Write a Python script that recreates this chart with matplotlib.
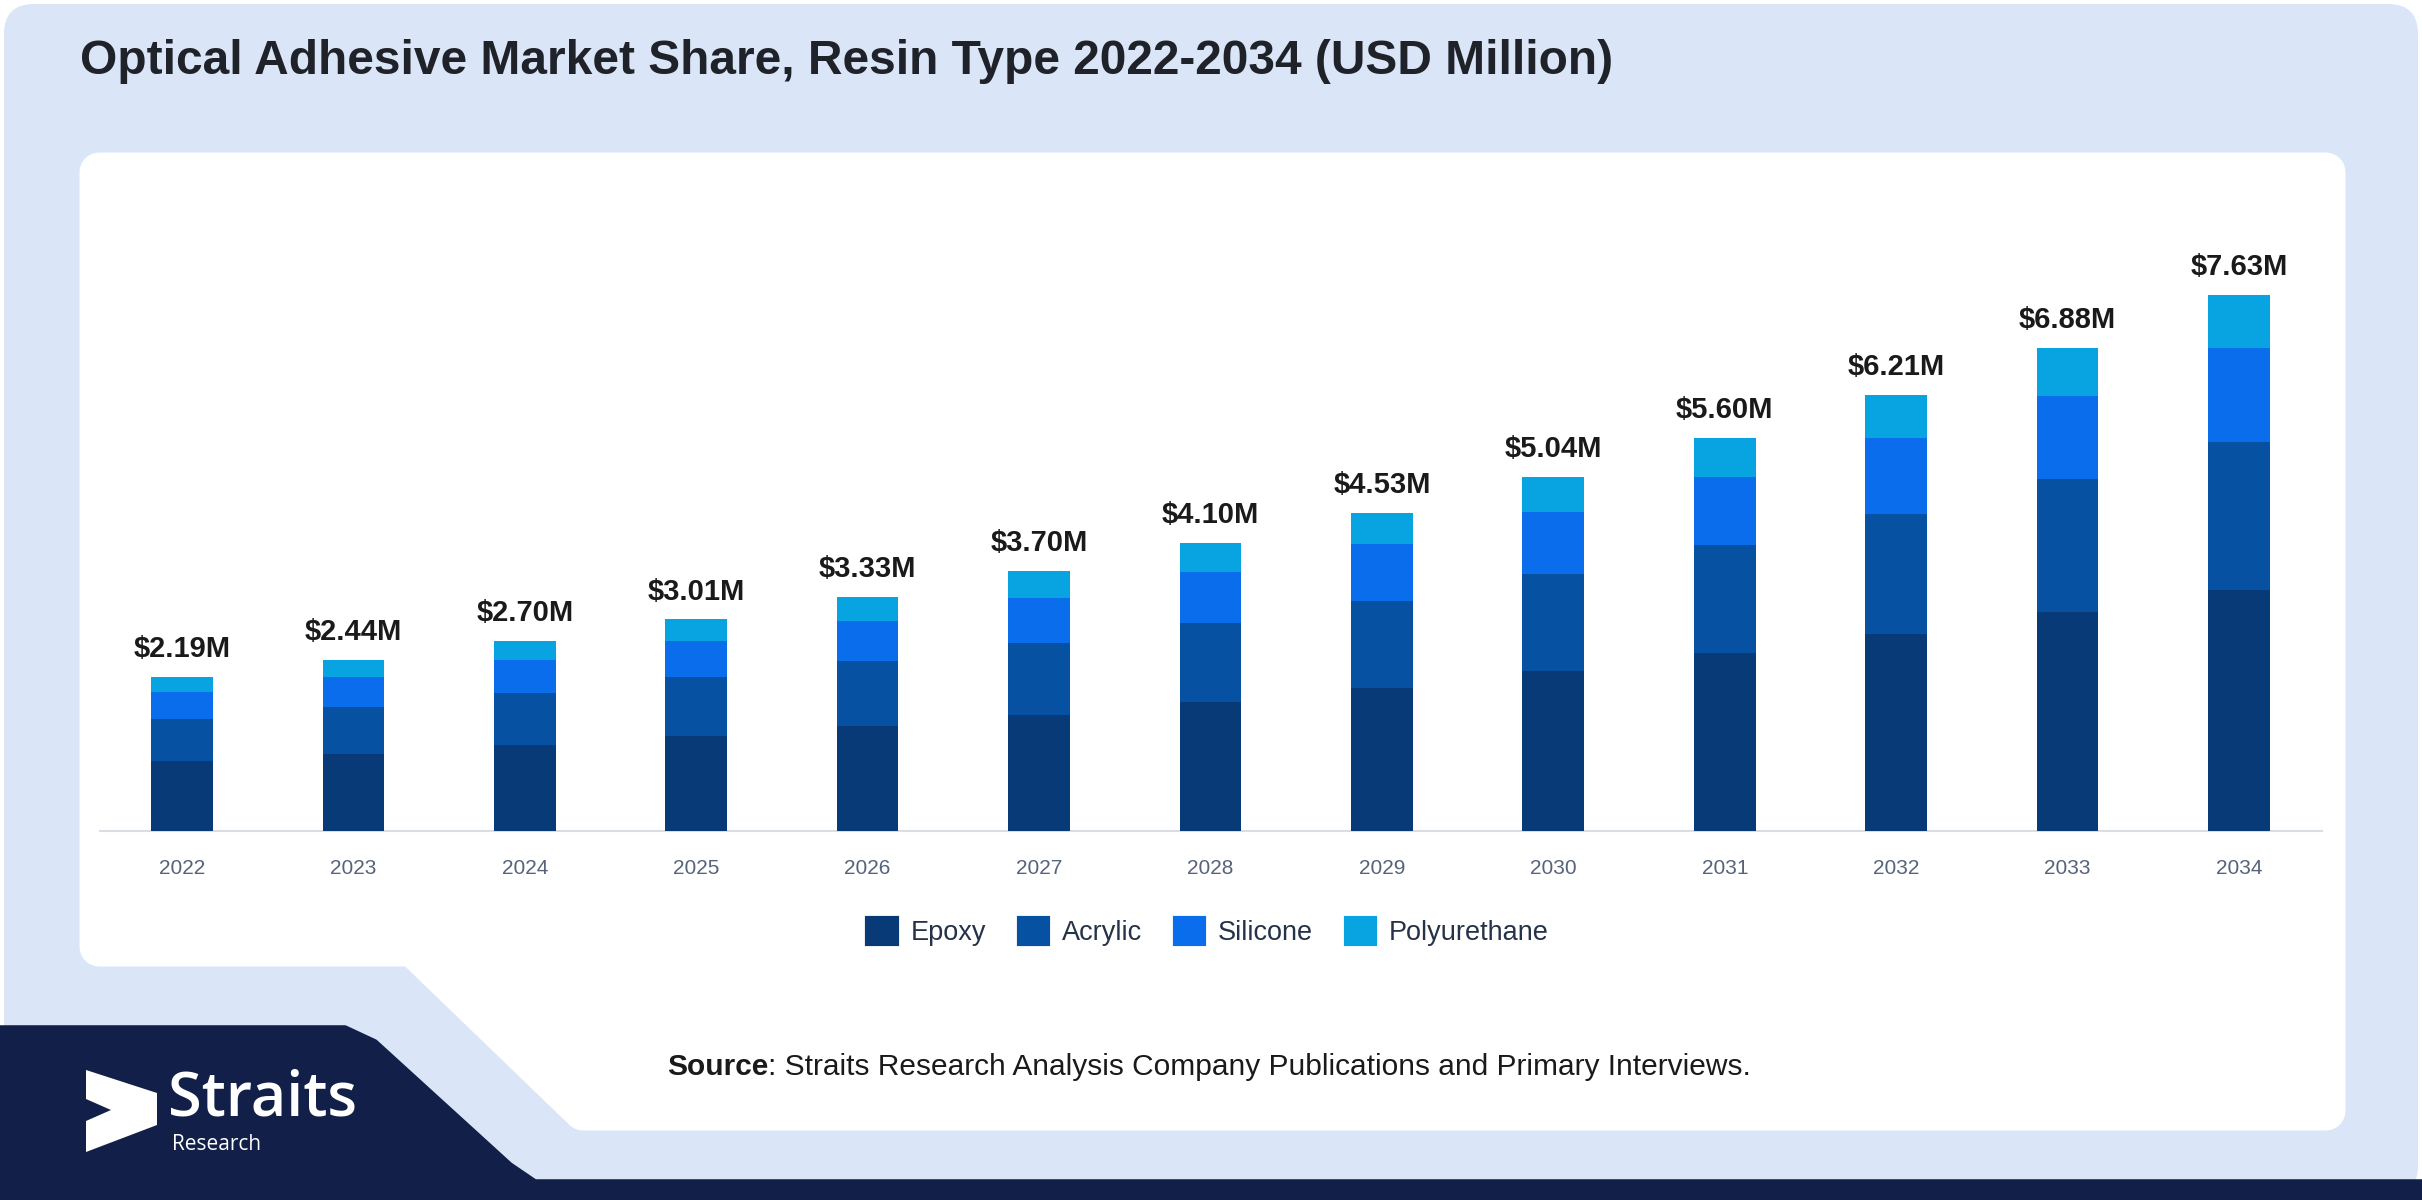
import numpy as np
import matplotlib.pyplot as plt
from matplotlib.patches import FancyBboxPatch, Polygon, Patch

plt.rcParams['font.family'] = ['Liberation Sans', 'DejaVu Sans']

# data (USD million)
years = ['2022', '2023', '2024', '2025', '2026', '2027', '2028',
         '2029', '2030', '2031', '2032', '2033', '2034']
totals = [2.19, 2.44, 2.70, 3.01, 3.33, 3.70, 4.10, 4.53, 5.04, 5.60, 6.21, 6.88, 7.63]
epoxy = [0.99, 1.10, 1.22, 1.35, 1.50, 1.65, 1.84, 2.03, 2.28, 2.53, 2.81, 3.12, 3.43]
acrylic = [0.60, 0.67, 0.75, 0.84, 0.92, 1.02, 1.12, 1.25, 1.38, 1.54, 1.70, 1.89, 2.10]
silicone = [0.39, 0.42, 0.46, 0.52, 0.57, 0.65, 0.72, 0.80, 0.88, 0.97, 1.09, 1.18, 1.34]
polyurethane = [0.21, 0.25, 0.27, 0.30, 0.34, 0.38, 0.42, 0.45, 0.50, 0.56, 0.61, 0.69, 0.76]

series_names = ['Epoxy', 'Acrylic', 'Silicone', 'Polyurethane']
colors = ['#083a78', '#0751a2', '#0a6deb', '#08a4e1']

title = 'Optical Adhesive Market Share, Resin Type 2022-2034 (USD Million)'
W, H = 2422, 1200
light_blue = '#dae6f8'
navy = '#121f48'

fig = plt.figure(figsize=(W / 100, H / 100), dpi=100, facecolor='white')

# background layer in pixel coordinates
bg = fig.add_axes([0, 0, 1, 1])
bg.set_xlim(0, W)
bg.set_ylim(H, 0)
bg.axis('off')

bg.add_patch(FancyBboxPatch((4, 4), W - 8, H - 8, boxstyle='round,pad=0,rounding_size=30',
                            facecolor=light_blue, edgecolor='none'))
# navy band with logo area
bg.add_patch(Polygon([(0, 1028), (345, 1028), (375, 1042), (510, 1165), (535, 1182),
                      (W, 1182), (W, H), (0, H)], closed=True,
                     facecolor=navy, edgecolor=navy, linewidth=4, joinstyle='round'))
# white card (thick round-joined edge gives the rounded corners)
card = Polygon([(99, 172), (2326, 172), (2326, 1111), (583, 1111), (413, 947), (99, 947)],
               closed=True, facecolor='white', edgecolor='white', linewidth=28, joinstyle='round')
bg.add_patch(card)

# logo
bg.add_patch(Polygon([(86, 1070), (157, 1093), (157, 1125), (86, 1152), (86, 1121),
                      (111, 1110), (86, 1099)], closed=True, facecolor='white', edgecolor='none'))
bg.text(168, 1116, 'Straits', fontsize=44, fontweight='semibold', family='Open Sans',
        color='white', va='baseline', ha='left')
bg.text(172, 1150, 'Research', fontsize=15, family='Open Sans', color='white',
        va='baseline', ha='left')

bg.text(80, 62, title, fontsize=34.5, fontweight='bold', color='#1f2329', va='center', ha='left')

# source line
src_bold = bg.text(667, 1067, 'Source', fontsize=21.5, fontweight='bold', color='#1a1a1a',
                   va='center', ha='left')
fig.canvas.draw()
bb = src_bold.get_window_extent().transformed(bg.transData.inverted())
bg.text(bb.x1, 1067, ': Straits Research Analysis Company Publications and Primary Interviews.',
        fontsize=21.5, color='#1a1a1a', va='center', ha='left')

# chart
ax = fig.add_axes([100 / W, (H - 831) / H, (2322 - 100) / W, (831 - 200) / H])
ax.set_facecolor('none')
x = np.arange(len(years))
bottom = np.zeros(len(years))
for name, vals, c in zip(series_names, [epoxy, acrylic, silicone, polyurethane], colors):
    ax.bar(x, vals, width=0.36, bottom=bottom, color=c, label=name, zorder=3)
    bottom += np.array(vals)

for xi, t, top in zip(x, totals, bottom):
    ax.annotate(f'${t:.2f}M', (xi, top), xytext=(0, 10), textcoords='offset points',
                ha='center', va='bottom', fontsize=21, fontweight='bold', color='#1a1a1a')

ax.set_xlim(-0.478, len(years) - 1 + 0.484)
ax.set_ylim(0, 8.98)
ax.set_xticks(x)
ax.set_xticklabels(years, fontsize=15, color='#56637a')
ax.tick_params(axis='x', length=0, pad=20)
ax.set_yticks([])
for s in ['top', 'right', 'left']:
    ax.spines[s].set_visible(False)
ax.spines['bottom'].set_color('#d9dde4')
ax.spines['bottom'].set_linewidth(1.5)

handles = [Patch(facecolor=c, edgecolor=c, linewidth=3, joinstyle='round', label=n)
           for n, c in zip(series_names, colors)]
fig.legend(handles=handles, loc='center', bbox_to_anchor=(1208 / W, 1 - 932 / H), ncol=4,
           frameon=False, fontsize=19.5, handlelength=1.1, handleheight=1.1,
           handletextpad=0.5, columnspacing=1.2, labelcolor='#263248')

fig.savefig('out.png', dpi=100, facecolor='white')
